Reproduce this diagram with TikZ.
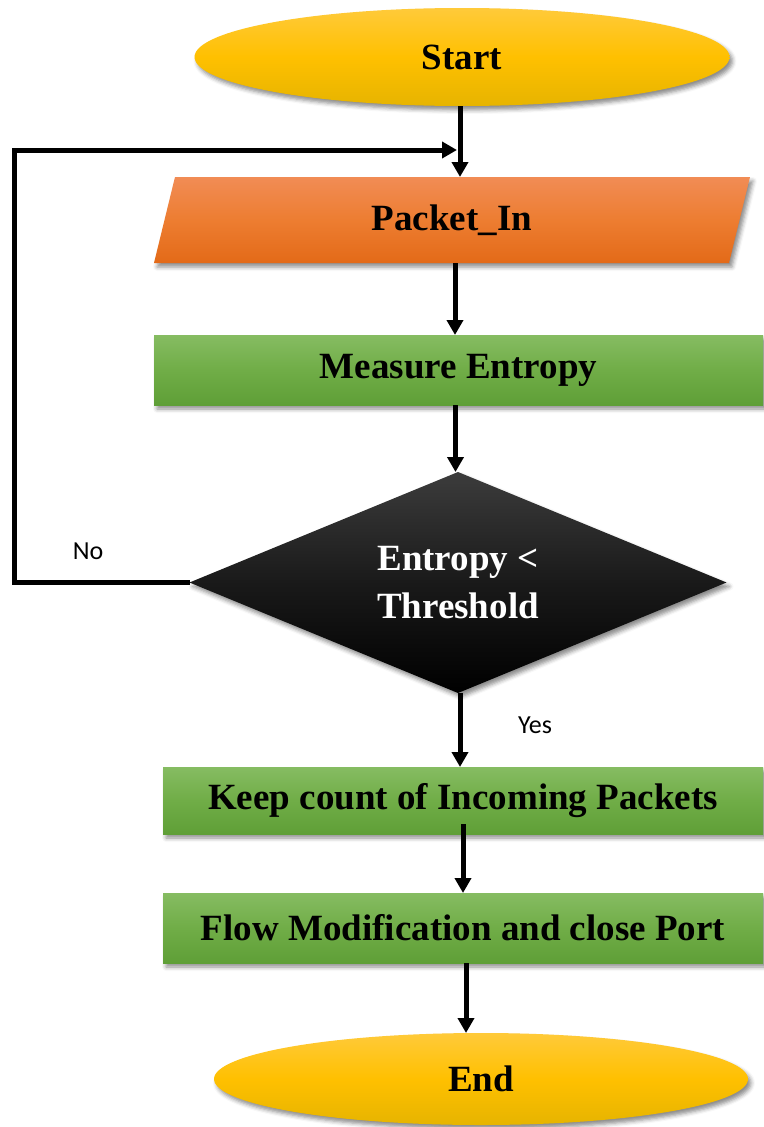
\documentclass[tikz,border=0pt]{standalone}
\usepackage{fontspec}
\setmainfont{Liberation Serif}
\newfontfamily\labelfont{Carlito}
\usetikzlibrary{arrows.meta,shapes.geometric,shadows.blur,backgrounds}

\definecolor{yellowtop}{HTML}{FFCA3A}
\definecolor{yellowmid}{HTML}{FFC000}
\definecolor{yellowbot}{HTML}{E6B400}
\definecolor{orangetop}{HTML}{F18C55}
\definecolor{orangemid}{HTML}{ED7D31}
\definecolor{orangebot}{HTML}{E36A18}
\definecolor{greentop}{HTML}{86BC62}
\definecolor{greenmid}{HTML}{70AD47}
\definecolor{greenbot}{HTML}{5F9F37}
\definecolor{decisiontop}{HTML}{3C3C3C}

\begin{document}
\begin{tikzpicture}[x=1pt,y=-1pt,
  every node/.style={inner sep=0pt, outer sep=0pt},
  boxtext/.style={font=\fontsize{37}{48}\selectfont\bfseries, align=center},
  softshadow/.style={blur shadow={shadow xshift=3pt, shadow yshift=-4pt,
      shadow blur radius=4pt, shadow opacity=45}},
  terminal/.style={boxtext, ellipse, softshadow,
      top color=yellowtop, bottom color=yellowbot, middle color=yellowmid},
  iotext/.style={boxtext, rectangle},
  iofill/.style={softshadow,
      top color=orangetop, bottom color=orangebot, middle color=orangemid},
  process/.style={boxtext, rectangle, softshadow,
      top color=greentop, bottom color=greenbot, middle color=greenmid},
  decision/.style={boxtext, diamond, shape aspect=2.4, softshadow, text=white,
      top color=decisiontop, bottom color=black, middle color=black!90},
  flowline/.style={line width=5pt, -{Triangle[width=16pt,length=15pt]}},
  branchlabel/.style={font=\labelfont\fontsize{26}{30}\selectfont}
]
\useasboundingbox (0,0) rectangle (763,1127);

% shapes of the flow
\node[terminal, minimum width=535pt, minimum height=98pt] (start) at (462,57) {Start};
\node[iotext, minimum width=596pt, minimum height=86pt] (pin) at (452,220) {Packet\_In};
\node[process, minimum width=609pt, minimum height=70pt] (measure) at (458.5,370) {Measure Entropy};
\node[decision, minimum width=537pt, minimum height=221pt] (dec) at (458,582.5) {Entropy <\\Threshold};
\node[process, minimum width=600pt, minimum height=67pt] (keep) at (463,800.5) {Keep count of Incoming Packets};
\node[process, minimum width=600pt, minimum height=70pt] (flow) at (463,928) {Flow Modification and close Port};
\node[terminal, minimum width=534pt, minimum height=92pt] (end) at (481,1079) {End};

% slanted input/output body behind its label
\begin{scope}[on background layer]
  \path[iofill] (pin.south west) -- ([xshift=21pt]pin.north west)
    -- (pin.north east) -- ([xshift=-21pt]pin.south east) -- cycle;
\end{scope}

% helper points for the feedback loop
\coordinate (loopx) at (14,0);
\coordinate (merge) at (457,150);

% connectors
\draw[flowline] ([xshift=-2pt]start.south) -- ([xshift=-2pt]start.south |- pin.north);
\draw[flowline] ([xshift=3pt]pin.south) -- ([xshift=3pt]pin.south |- measure.north);
\draw[flowline] ([xshift=-3pt]measure.south) -- ([xshift=-3pt]measure.south |- dec.north);
\draw[flowline] ([xshift=2pt]dec.south) -- ([xshift=2pt]dec.south |- keep.north);
\draw[flowline] ([yshift=10pt]keep.south) -- (keep.south |- flow.north);
\draw[flowline] ([xshift=3pt]flow.south) -- ([xshift=3pt]flow.south |- end.north);
\draw[flowline] (dec.west) -- (dec.west -| loopx) |- (merge);

% branch labels
\node[branchlabel] (nolabel) at (88,551) {No};
\node[branchlabel] (yeslabel) at (535,725) {Yes};
\end{tikzpicture}
\end{document}
